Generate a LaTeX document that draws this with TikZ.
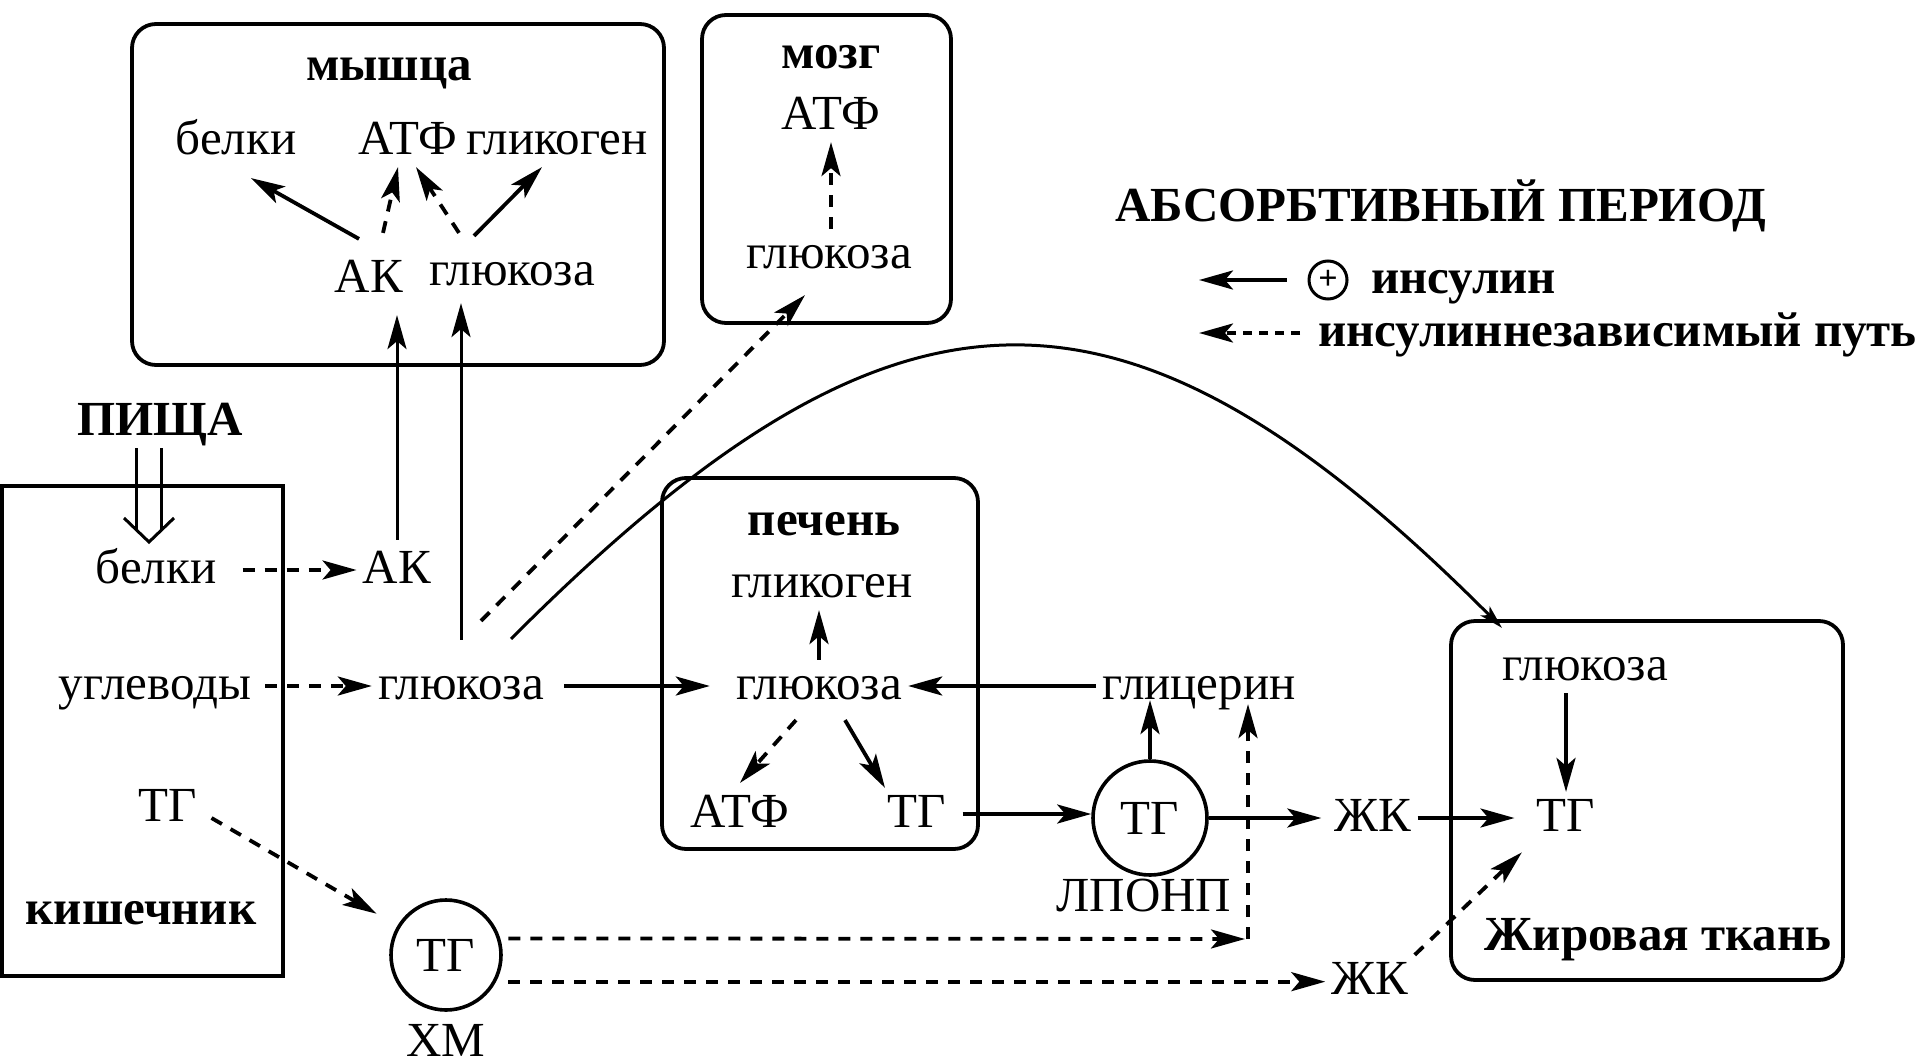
\documentclass[tikz,border=0pt]{standalone}
\usepackage{fontspec}
\setmainfont{Liberation Serif}
\usetikzlibrary{arrows.meta}
\newcommand{\lblsize}{\fontsize{24.5pt}{29pt}\selectfont}

\begin{document}
\begin{tikzpicture}[
    x=0.5pt, y=-0.5pt,
    lbl/.style={font=\lblsize, inner sep=3pt, text height=16.7pt, text depth=3pt},
    ttl/.style={lbl, font=\lblsize\bfseries},
    box/.style={line width=1.9pt, rounded corners=12pt},
    thn/.style={line width=1.5pt},
    arr/.style={line width=1.9pt, -{Stealth[length=17pt, width=9.5pt, inset=4pt]}},
    tharr/.style={arr, line width=1.5pt},
    dsh/.style={arr, line width=1.9pt, dash pattern=on 6pt off 5pt},
    tg/.style={circle, draw, line width=1.8pt, font=\lblsize, inner sep=0pt}
  ]
  \useasboundingbox (0,0) rectangle (1920,1064);

  % Muscle
  \draw[box] (132,24) rectangle (664,365);
  \node[ttl] (mlbl) at (389,67) {мышца};
  \node[lbl] (mprot) at (236,141) {белки};
  \node[lbl] (matp) at (408,141) {АТФ};
  \node[lbl] (mglyc) at (557,141) {гликоген};
  \node[lbl] (mak) at (369,279) {АК};
  \node[lbl] (mglu) at (512,272) {глюкоза};
  \draw[arr] ([xshift=-5pt,yshift=7pt]mak.north) -- ([xshift=7.5pt,yshift=-5.5pt]mprot.south);
  \draw[dsh] ([xshift=7pt,yshift=10pt]mak.north) -- ([xshift=-5pt]matp.south);
  \draw[dsh] ([xshift=-26.5pt,yshift=6.5pt]mglu.north) -- ([xshift=4pt]matp.south);
  \draw[arr] ([xshift=-19pt,yshift=5pt]mglu.north) -- ([xshift=-7.5pt]mglyc.south);

  % Brain
  \draw[box] (702,15) rectangle (951,323);
  \node[ttl] (blbl) at (831,55) {мозг};
  \node[lbl] (batp) at (831,116) {АТФ};
  \node[lbl] (bglu) at (829,255) {глюкоза};
  \draw[dsh] (bglu.north -| batp) -- (batp.south);

  % Legend
  \node[ttl] (title) at (1441,208) {АБСОРБТИВНЫЙ ПЕРИОД};
  \node[circle, draw, line width=1.5pt, minimum size=19pt, inner sep=0pt,
        font=\fontsize{17pt}{17pt}\selectfont\bfseries] (plus) at (1328,280) {+};
  \node[ttl, anchor=west] (ins) at (1365,280) {инсулин};
  \coordinate (lgs) at (1199,280);
  \draw[arr, shorten <=10.5pt] (plus) -- (lgs);
  \node[ttl, anchor=west] (indep) at (1312,333) {инсулиннезависимый путь};
  \coordinate (lgd) at (1199,333);
  \draw[dsh, dash pattern=on 4.5pt off 3.5pt, shorten <=6pt] (indep) -- (lgd);

  % Food and intestine
  \node[ttl] (food) at (160,422) {ПИЩА};
  \draw[box, sharp corners] (2,486) rectangle (283,976);
  \node[lbl] (iprot) at (156,570) {белки};
  \node[lbl] (icarb) at (155,686) {углеводы};
  \node[lbl] (itg) at (168,808) {ТГ};
  \node[ttl] (ilbl) at (141,911) {кишечник};
  \coordinate (foodtip) at (149,542);
  \draw[thn] (foodtip |- food.south) ++(-12.5,0) -- ++(0,82);
  \draw[thn] (foodtip |- food.south) ++(12.5,0) -- ++(0,82);
  \draw[thn] (foodtip) ++(-25,-24) -- (foodtip) -- ++(25,-24);

  % Blood
  \node[lbl] (ak) at (397,570) {АК};
  \node[lbl] (glu) at (461,686) {глюкоза};
  \draw[dsh, shorten <=10pt] (iprot) -- (ak);
  \draw[dsh, shorten <=4pt] (icarb) -- (glu);
  \draw[tharr, shorten <=2pt, shorten >=5pt] (ak.north) -- (ak.north |- mak.south);
  \draw[tharr, shorten <=10pt, shorten >=2.5pt] (glu.north) -- (glu.north |- mglu.south);
  \draw[dsh] ([xshift=10pt,yshift=19.5pt]glu.north) -- ([xshift=-12pt,yshift=-7pt]bglu.south);

  % Liver
  \draw[box] (662,478) rectangle (978,849);
  \node[ttl] (llbl) at (824,522) {печень};
  \node[lbl] (lglyc) at (822,584) {гликоген};
  \node[lbl] (lglu) at (819,686) {глюкоза};
  \node[lbl] (latp) at (740,814) {АТФ};
  \node[lbl] (ltg) at (917,814) {ТГ};
  \draw[arr, shorten <=7pt, shorten >=10pt] (glu) -- (lglu);
  \draw[arr] (lglu.north) -- (lglu.north |- lglyc.south);
  \draw[dsh] ([xshift=-11.5pt,yshift=-4pt]lglu.south) -- ([yshift=2.5pt]latp.north);
  \draw[arr] ([xshift=13pt,yshift=-4pt]lglu.south) -- ([xshift=-16pt]ltg.north);

  % Glycerol and VLDL
  \node[lbl] (glyc) at (1199,686) {глицерин};
  \draw[arr] (glyc) -- (lglu);
  \node[tg, minimum size=57pt] (vldl) at (1150,818) {ТГ};
  \node[lbl] (vldllbl) at (1144,898) {ЛПОНП};
  \draw[arr, shorten <=5pt] (ltg.east) -- (ltg.east -| vldl.west);
  \draw[arr, shorten >=-6pt] (vldl.north) -- (vldl.north |- glyc.south);
  \node[lbl] (fa) at (1373,818) {ЖК};
  \draw[arr, shorten >=3.5pt] (vldl) -- (fa);

  % Adipose tissue
  \draw[box] (1451,621) rectangle (1843,980);
  \node[lbl] (aglu) at (1585,667) {глюкоза};
  \node[lbl] (atg) at (1566,818) {ТГ};
  \node[ttl] (albl) at (1658,937) {Жировая ткань};
  \draw[arr, shorten >=8pt] (fa) -- (atg);
  \draw[arr] (atg.north |- aglu.south) -- (atg.north);
  \draw[thn, -{Stealth[length=12pt, width=6.5pt, inset=3pt]}]
    ([xshift=25pt,yshift=10.5pt]glu.north) .. controls +(381,-381) and +(-383,-384) .. ([xshift=-41.5pt,yshift=6.5pt]aglu.north);

  % Chylomicrons
  \node[tg, minimum size=55pt] (chm) at (446,955) {ТГ};
  \node[lbl] (chmlbl) at (446,1043) {ХМ};
  \draw[dsh, shorten >=12pt] ([xshift=4pt,yshift=-5pt]itg.east) -- (chm.149);
  \coordinate (cnr) at (1248,939);
  \draw[dsh, shorten <=4pt, shorten >=1.5pt] (chm.17) -- (cnr);
  \draw[dsh, shorten >=-4pt] (cnr) -- (cnr |- glyc.south);
  \node[lbl] (fa2) at (1370,981) {ЖК};
  \draw[dsh, shorten <=6pt] (chm.-28) -- (chm.-28 -| fa2.west);
  \draw[dsh, shorten >=6pt] (fa2.north east) -- (atg.south west);
\end{tikzpicture}
\end{document}
